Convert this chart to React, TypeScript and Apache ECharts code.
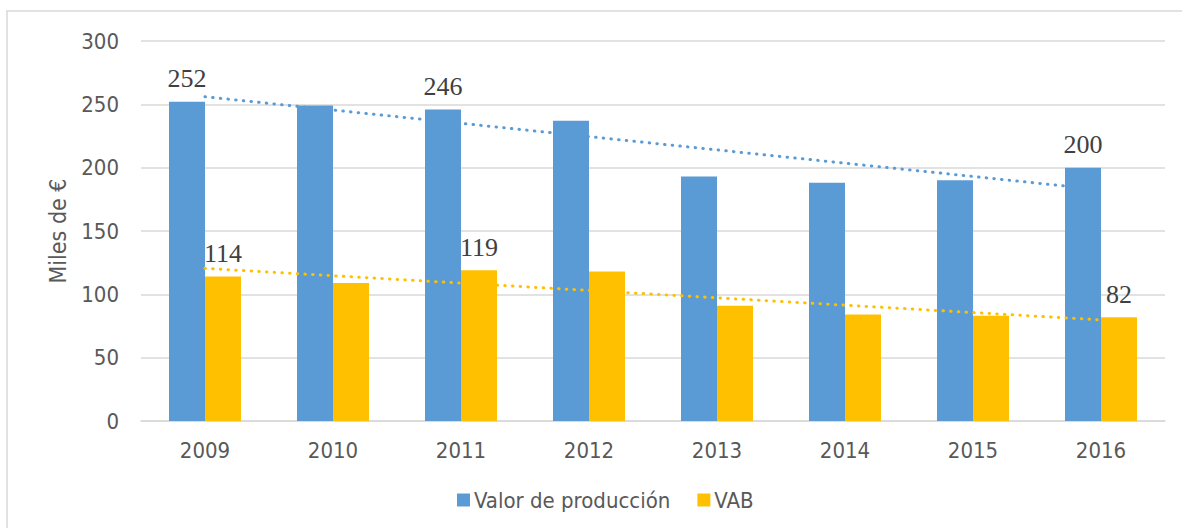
import React, { useEffect, useRef } from "react";
import * as echarts from "echarts";

const years = ["2009", "2010", "2011", "2012", "2013", "2014", "2015", "2016"];
const valorProduccion = [252, 249, 246, 237, 193, 188, 190, 200];
const vab = [114, 109, 119, 118, 91, 84, 83, 82];
const labeledYears = ["2009", "2011", "2016"];
// trendline endpoints (category index, value)
const trendValorX = [0, 6.72];
const trendValorY = [256, 185.5];
const trendVabX = [0, 7];
const trendVabY = [120.5, 79.8];

const BLUE = "#5B9BD5";
const YELLOW = "#FFC000";
const SANS = "'Liberation Sans Narrow', 'DejaVu Sans Condensed', 'Liberation Sans', sans-serif";
const SERIF = "'Liberation Serif', 'DejaVu Serif', serif";

export default function App() {
  const ref = useRef<HTMLDivElement>(null);
  useEffect(() => {
    if (!ref.current) return;
    const chart = echarts.init(ref.current, undefined, { renderer: "svg" });
    const labelFor = () => ({
      show: true,
      position: "top",
      distance: 10,
      color: "#404040",
      fontFamily: SERIF,
      fontSize: 26,
      formatter: (p: any) => (labeledYears.includes(p.name) ? String(p.value) : ""),
    });
    chart.setOption({
      animation: false,
      backgroundColor: "#ffffff",
      graphic: [
        {
          type: "rect",
          shape: { x: 7, y: 11, width: 1200, height: 600 },
          style: { fill: "none", stroke: "#D9D9D9", lineWidth: 1.5 },
          silent: true,
          z: -10,
        },
      ],
      legend: {
        left: 457,
        top: 489,
        padding: 0,
        itemWidth: 13,
        itemHeight: 13,
        itemGap: 27,
        icon: "rect",
        data: ["Valor de producción", "VAB"],
        textStyle: { color: "#595959", fontFamily: SANS, fontSize: 22, padding: [0, 0, 0, -1] },
      },
      grid: { left: 141, right: 17, top: 41, bottom: 107 },
      xAxis: [
        {
          type: "category",
          data: years,
          axisLine: { show: true, lineStyle: { color: "#D9D9D9", width: 1.5 } },
          axisTick: { show: false },
          axisLabel: { color: "#595959", fontFamily: SANS, fontSize: 22, margin: 18 },
        },
        {
          type: "value",
          min: -0.5,
          max: 7.5,
          show: false,
        },
      ],
      yAxis: {
        type: "value",
        min: 0,
        max: 300,
        interval: 50,
        name: "Miles de €",
        nameLocation: "middle",
        nameGap: 72,
        nameTextStyle: { color: "#595959", fontFamily: SANS, fontSize: 23 },
        axisLine: { show: false },
        axisTick: { show: false },
        axisLabel: { color: "#595959", fontFamily: SANS, fontSize: 22, margin: 22 },
        splitLine: { lineStyle: { color: "#D9D9D9", width: 1.5 } },
      },
      series: [
        {
          name: "Valor de producción",
          type: "bar",
          data: valorProduccion,
          barWidth: 36,
          barGap: "0%",
          itemStyle: { color: BLUE },
          label: labelFor(),
        },
        {
          name: "VAB",
          type: "bar",
          data: vab,
          barWidth: 36,
          itemStyle: { color: YELLOW },
          label: labelFor(),
        },
        {
          name: "trendValor",
          type: "line",
          xAxisIndex: 1,
          data: trendValorX.map((x, i) => [x, trendValorY[i]]),
          showSymbol: false,
          symbol: "none",
          lineStyle: { color: BLUE, width: 3, type: [0.5, 7.2], cap: "round" },
          z: 5,
        },
        {
          name: "trendVab",
          type: "line",
          xAxisIndex: 1,
          data: trendVabX.map((x, i) => [x, trendVabY[i]]),
          showSymbol: false,
          symbol: "none",
          lineStyle: { color: YELLOW, width: 3, type: [0.5, 7.2], cap: "round" },
          z: 5,
        },
      ],
    });
    return () => chart.dispose();
  }, []);
  return (
    <div
      ref={ref}
      style={{ position: "fixed", left: 0, top: 0, width: 1182, height: 528 }}
    />
  );
}
